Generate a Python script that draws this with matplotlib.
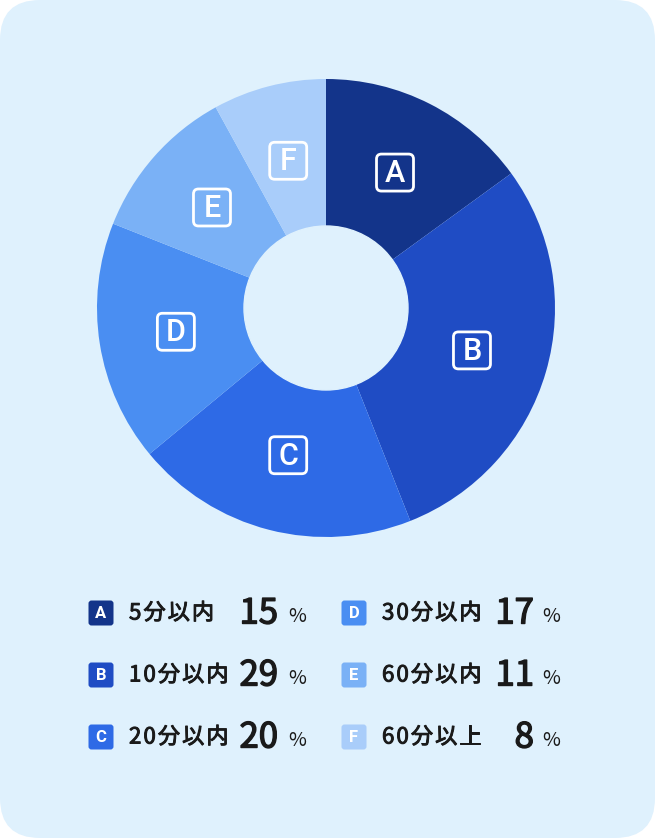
import numpy as np
import matplotlib.pyplot as plt
import matplotlib.patheffects as pe
from matplotlib.patches import FancyBboxPatch

plt.rcParams['font.family'] = ['Noto Sans CJK JP', 'DejaVu Sans']

letters = ['A', 'B', 'C', 'D', 'E', 'F']
labels = ['5分以内', '10分以内', '20分以内', '30分以内', '60分以内', '60分以上']
values = [15, 29, 20, 17, 11, 8]
colors = ['#13348a', '#1f4cc4', '#2e6ae6', '#4a8ef2', '#7ab1f6', '#a9cdfa']

W, H = 655, 838
BG = '#dff1fd'
INK = '#1a1a1a'
fig = plt.figure(figsize=(W / 100, H / 100), dpi=100)

# background card (pixel coords, y down)
bg = fig.add_axes([0, 0, 1, 1])
bg.set_xlim(0, W)
bg.set_ylim(H, 0)
bg.axis('off')
bg.add_patch(FancyBboxPatch((0, 0), W, H, boxstyle='round,pad=0,rounding_size=40',
                            facecolor=BG, edgecolor='none'))

# donut
cx, cy, r, r_in = 326, 308, 229, 82
ax = fig.add_axes([(cx - r) / W, (H - cy - r) / H, 2 * r / W, 2 * r / H])
ax.pie(values, colors=colors, startangle=90, counterclock=False,
       radius=1, wedgeprops=dict(linewidth=0))
ax.add_patch(plt.Circle((0, 0), r_in / r, color=BG, zorder=5))
ax.set_xlim(-1, 1)
ax.set_ylim(-1, 1)
ax.set_aspect('equal')
ax.axis('off')

# overlay on top of the pie, same pixel coords
top = fig.add_axes([0, 0, 1, 1])
top.set_xlim(0, W)
top.set_ylim(H, 0)
top.axis('off')
top.patch.set_alpha(0)

# letter boxes on the ring
start = 90
lr = 152
for let, v in zip(letters, values):
    mid = np.deg2rad(start - v * 3.6 / 2)
    start -= v * 3.6
    x = cx + lr * np.cos(mid)
    y = cy - lr * np.sin(mid)
    top.add_patch(FancyBboxPatch((x - 18.5, y - 18.5), 37, 37,
                                 boxstyle='round,pad=0,rounding_size=5',
                                 facecolor='none', edgecolor='white', lw=2))
    top.text(x, y + 1, let, color='white', fontsize=22, ha='center', va='center',
             family=['Roboto'], fontweight='medium')

semi = [pe.withStroke(linewidth=0.7, foreground=INK)]


def spaced(x, y, s, size, gap):
    # draw text char by char with extra letter spacing
    px = size * 100 / 72
    for ch in s:
        top.text(x, y, ch, color=INK, fontsize=size, ha='left', va='center',
                 path_effects=semi)
        x += (px * 0.56 if ch.isascii() else px) + gap


# legend
rows_y = [613, 675, 737]
cols = [(101, 129, 278, 288), (354, 382, 534, 542)]
for i, (let, lab, v, c) in enumerate(zip(letters, labels, values, colors)):
    sx, tx, nx, px = cols[i // 3]
    y = rows_y[i % 3]
    top.add_patch(FancyBboxPatch((sx - 12.5, y - 12.5), 25, 25,
                                 boxstyle='round,pad=0,rounding_size=3',
                                 facecolor=c, edgecolor='none'))
    top.text(sx, y + 0.5, let, color='white', fontsize=12, ha='center', va='center',
             family=['Roboto'], fontweight='bold')
    spaced(tx, y, lab, 16, 2)
    top.text(nx, y + 1, str(v), color=INK, fontsize=25, ha='right', va='center',
             path_effects=[pe.withStroke(linewidth=1.0, foreground=INK)])
    top.text(px, y + 3, '%', color=INK, fontsize=14, ha='left', va='center')

fig.savefig('out.png', dpi=100, facecolor='white')
